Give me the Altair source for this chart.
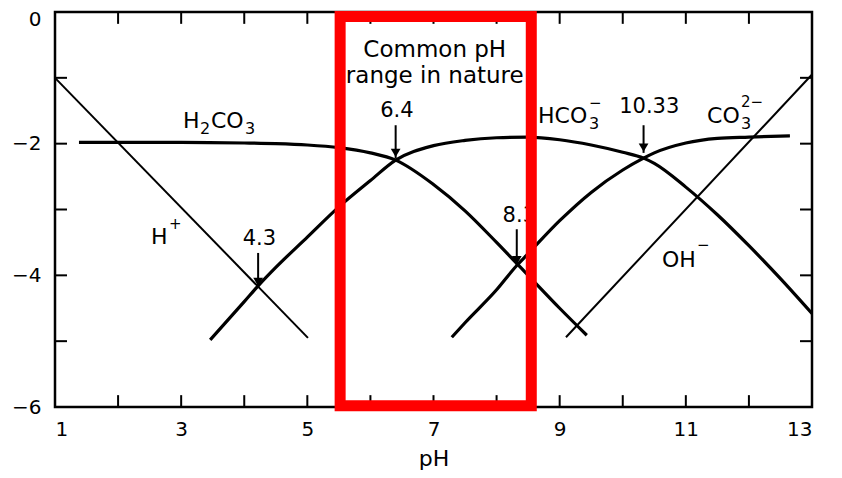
import altair as alt
import pandas as pd

# ---- data ----
ph_h2co3 = [1.38, 2.0, 3.0, 4.0, 4.5, 5.0, 5.5, 6.0, 6.4, 7.0, 7.5, 8.0, 8.3, 8.5, 9.0, 9.43]
h2co3 = [-1.98, -1.98, -1.98, -1.99, -2.0, -2.02, -2.06, -2.14, -2.25, -2.62, -3.02, -3.5, -3.8, -4.0, -4.5, -4.91]

ph_hco3 = [3.46, 4.0, 4.22, 4.5, 5.0, 5.5, 6.0, 6.4, 7.0, 7.5, 8.0, 8.5, 9.0, 9.5, 10.0, 10.33, 10.5, 11.0, 11.5, 12.0, 12.5, 13.0]
hco3 = [-4.98, -4.4, -4.16, -3.88, -3.42, -2.96, -2.56, -2.25, -2.03, -1.95, -1.91, -1.9, -1.94, -2.02, -2.13, -2.22, -2.3, -2.66, -3.08, -3.55, -4.05, -4.58]

ph_co3 = [7.29, 7.5, 8.0, 8.32, 8.5, 9.0, 9.5, 10.0, 10.33, 10.5, 11.0, 11.5, 12.0, 12.65]
co3 = [-4.94, -4.72, -4.22, -3.85, -3.67, -3.17, -2.74, -2.4, -2.22, -2.14, -1.99, -1.92, -1.9, -1.88]

ph_h = [1.0, 5.01]
h_ion = [-1.0, -4.95]
ph_oh = [9.1, 13.0]
oh_ion = [-4.94, -0.95]

x_ticks = [2, 3, 4, 5, 6, 7, 8, 9, 10, 11, 12]
y_ticks = [-1, -2, -3, -4, -5]
x_labels = [1, 3, 5, 7, 9, 11, 13]
y_labels = [0, -2, -4, -6]

# marked pH points (arrows)
arrow_ph = [6.4, 4.22, 8.32, 10.33]
arrow_top = [-1.72, -3.66, -3.30, -1.72]
arrow_tip = [-2.22, -4.18, -3.85, -2.14]

# number annotations
num_text = ["6.4", "4.3", "8.3", "10.33"]
num_ph = [6.42, 4.24, 8.36, 10.42]
num_val = [-1.595, -3.54, -3.19, -1.534]

# range box
box_ph = [5.52, 8.55]
box_val = [-0.07, -5.98]
range_text = ["Common pH", "range in nature"]
range_ph = [7.02, 7.02]
range_val = [-0.684, -1.08]

# species labels (base / subscript / superscript pieces)
base_text = ["H", "CO", "HCO", "CO", "H", "OH"]
base_ph = [3.029, 3.473, 8.657, 11.336, 2.522, 10.623]
base_val = [-1.762, -1.762, -1.686, -1.686, -3.524, -3.874]
sub_text = ["2", "3", "3", "3"]
sub_ph = [3.299, 4.012, 9.466, 11.875]
sub_val = [-1.853, -1.853, -1.777, -1.777]
sup_text = ["\u2212", "2\u2212", "+", "\u2212"]
sup_ph = [9.466, 11.875, 2.807, 11.178]
sup_val = [-1.382, -1.367, -3.22, -3.539]

# ---- tables ----
thick = pd.concat([
    pd.DataFrame({"pH": ph_h2co3, "val": h2co3, "s": "H2CO3"}),
    pd.DataFrame({"pH": ph_hco3, "val": hco3, "s": "HCO3"}),
    pd.DataFrame({"pH": ph_co3, "val": co3, "s": "CO3"}),
])
thin = pd.concat([
    pd.DataFrame({"pH": ph_h, "val": h_ion, "s": "H"}),
    pd.DataFrame({"pH": ph_oh, "val": oh_ion, "s": "OH"}),
])

FONT = "DejaVu Sans"
xs = alt.Scale(domain=[1, 13], nice=False, zero=False)
ys = alt.Scale(domain=[-6, 0], nice=False, zero=False)
xaxis = alt.Axis(values=x_labels, format="d", ticks=False, domain=False, grid=False,
                 labelFont=FONT, labelFontSize=20, labelColor="black",
                 labelPadding=12, title="pH", titleFont=FONT, titleFontSize=22,
                 titleFontWeight="normal", titleColor="black",
                 titleY=58, titleBaseline="alphabetic")
yaxis = alt.Axis(values=y_labels, format="d", ticks=False, domain=False, grid=False,
                 labelFont=FONT, labelFontSize=20, labelColor="black",
                 labelPadding=14, title="",
                 labelOffset={"condition": {"test": "datum.value == 0", "value": 7}, "value": 0})

X = alt.X("pH:Q", scale=xs, axis=xaxis)
Y = alt.Y("val:Q", scale=ys, axis=yaxis)

thick_lines = alt.Chart(thick).mark_line(color="black", strokeWidth=3.2, interpolate="monotone").encode(
    x=X, y=Y, detail="s:N")
thin_lines = alt.Chart(thin).mark_line(color="black", strokeWidth=2).encode(
    x=X, y=Y, detail="s:N")

xt = pd.DataFrame({"pH": x_ticks})
yt = pd.DataFrame({"val": y_ticks})
tick_b = alt.Chart(xt).mark_rule(color="black", strokeWidth=2).encode(
    x=X, y=alt.datum(-6, scale=ys), y2=alt.datum(-5.82))
tick_t = alt.Chart(xt).mark_rule(color="black", strokeWidth=2).encode(
    x=X, y=alt.datum(0, scale=ys), y2=alt.datum(-0.18))
tick_l = alt.Chart(yt).mark_rule(color="black", strokeWidth=2).encode(
    y=Y, x=alt.datum(1, scale=xs), x2=alt.datum(1.19))
tick_r = alt.Chart(yt).mark_rule(color="black", strokeWidth=2).encode(
    y=Y, x=alt.datum(13, scale=xs), x2=alt.datum(12.81))

arr = pd.DataFrame({"pH": arrow_ph, "val": arrow_top, "tip": arrow_tip,
                    "head": [t + 0.08 for t in arrow_tip]})
stems = alt.Chart(arr).mark_rule(color="black", strokeWidth=2).encode(x=X, y=Y, y2="tip:Q")
heads = alt.Chart(arr).mark_point(shape="triangle-down", filled=True, size=95,
                                  color="black", opacity=1).encode(
    x=X, y=alt.Y("head:Q", scale=ys, axis=yaxis))

nums = alt.Chart(pd.DataFrame({"pH": num_ph, "val": num_val, "t": num_text})).mark_text(
    font=FONT, fontSize=21, align="center", baseline="alphabetic", color="black").encode(
    x=X, y=Y, text="t:N")
rng = alt.Chart(pd.DataFrame({"pH": range_ph, "val": range_val, "t": range_text})).mark_text(
    font=FONT, fontSize=23, align="center", baseline="alphabetic", color="black").encode(
    x=X, y=Y, text="t:N")
lab_base = alt.Chart(pd.DataFrame({"pH": base_ph, "val": base_val, "t": base_text})).mark_text(
    font=FONT, fontSize=22, align="left", baseline="alphabetic", color="black").encode(
    x=X, y=Y, text="t:N")
lab_sub = alt.Chart(pd.DataFrame({"pH": sub_ph, "val": sub_val, "t": sub_text})).mark_text(
    font=FONT, fontSize=16, align="left", baseline="alphabetic", color="black").encode(
    x=X, y=Y, text="t:N")
lab_sup = alt.Chart(pd.DataFrame({"pH": sup_ph, "val": sup_val, "t": sup_text})).mark_text(
    font=FONT, fontSize=15, align="left", baseline="middle", color="black").encode(
    x=X, y=Y, text="t:N")

box = alt.Chart(pd.DataFrame({"pH": [box_ph[0]], "pH2": [box_ph[1]],
                              "val": [box_val[0]], "val2": [box_val[1]]})).mark_rect(
    fillOpacity=0, stroke="#ff0000", strokeWidth=11).encode(
    x=X, x2="pH2:Q", y=Y, y2="val2:Q")

chart = alt.layer(
    thick_lines, thin_lines, tick_b, tick_t, tick_l, tick_r,
    stems, heads, nums, rng, lab_base, lab_sub, lab_sup, box
).properties(
    width=757, height=395,
    autosize=alt.AutoSizeParams(type="none"),
    padding={"left": 47, "top": 4, "right": 14, "bottom": 63},
    background="white",
).configure_view(stroke="black", strokeWidth=2.5)

chart.save("out.html", embed_options={"renderer": "svg", "actions": False})
